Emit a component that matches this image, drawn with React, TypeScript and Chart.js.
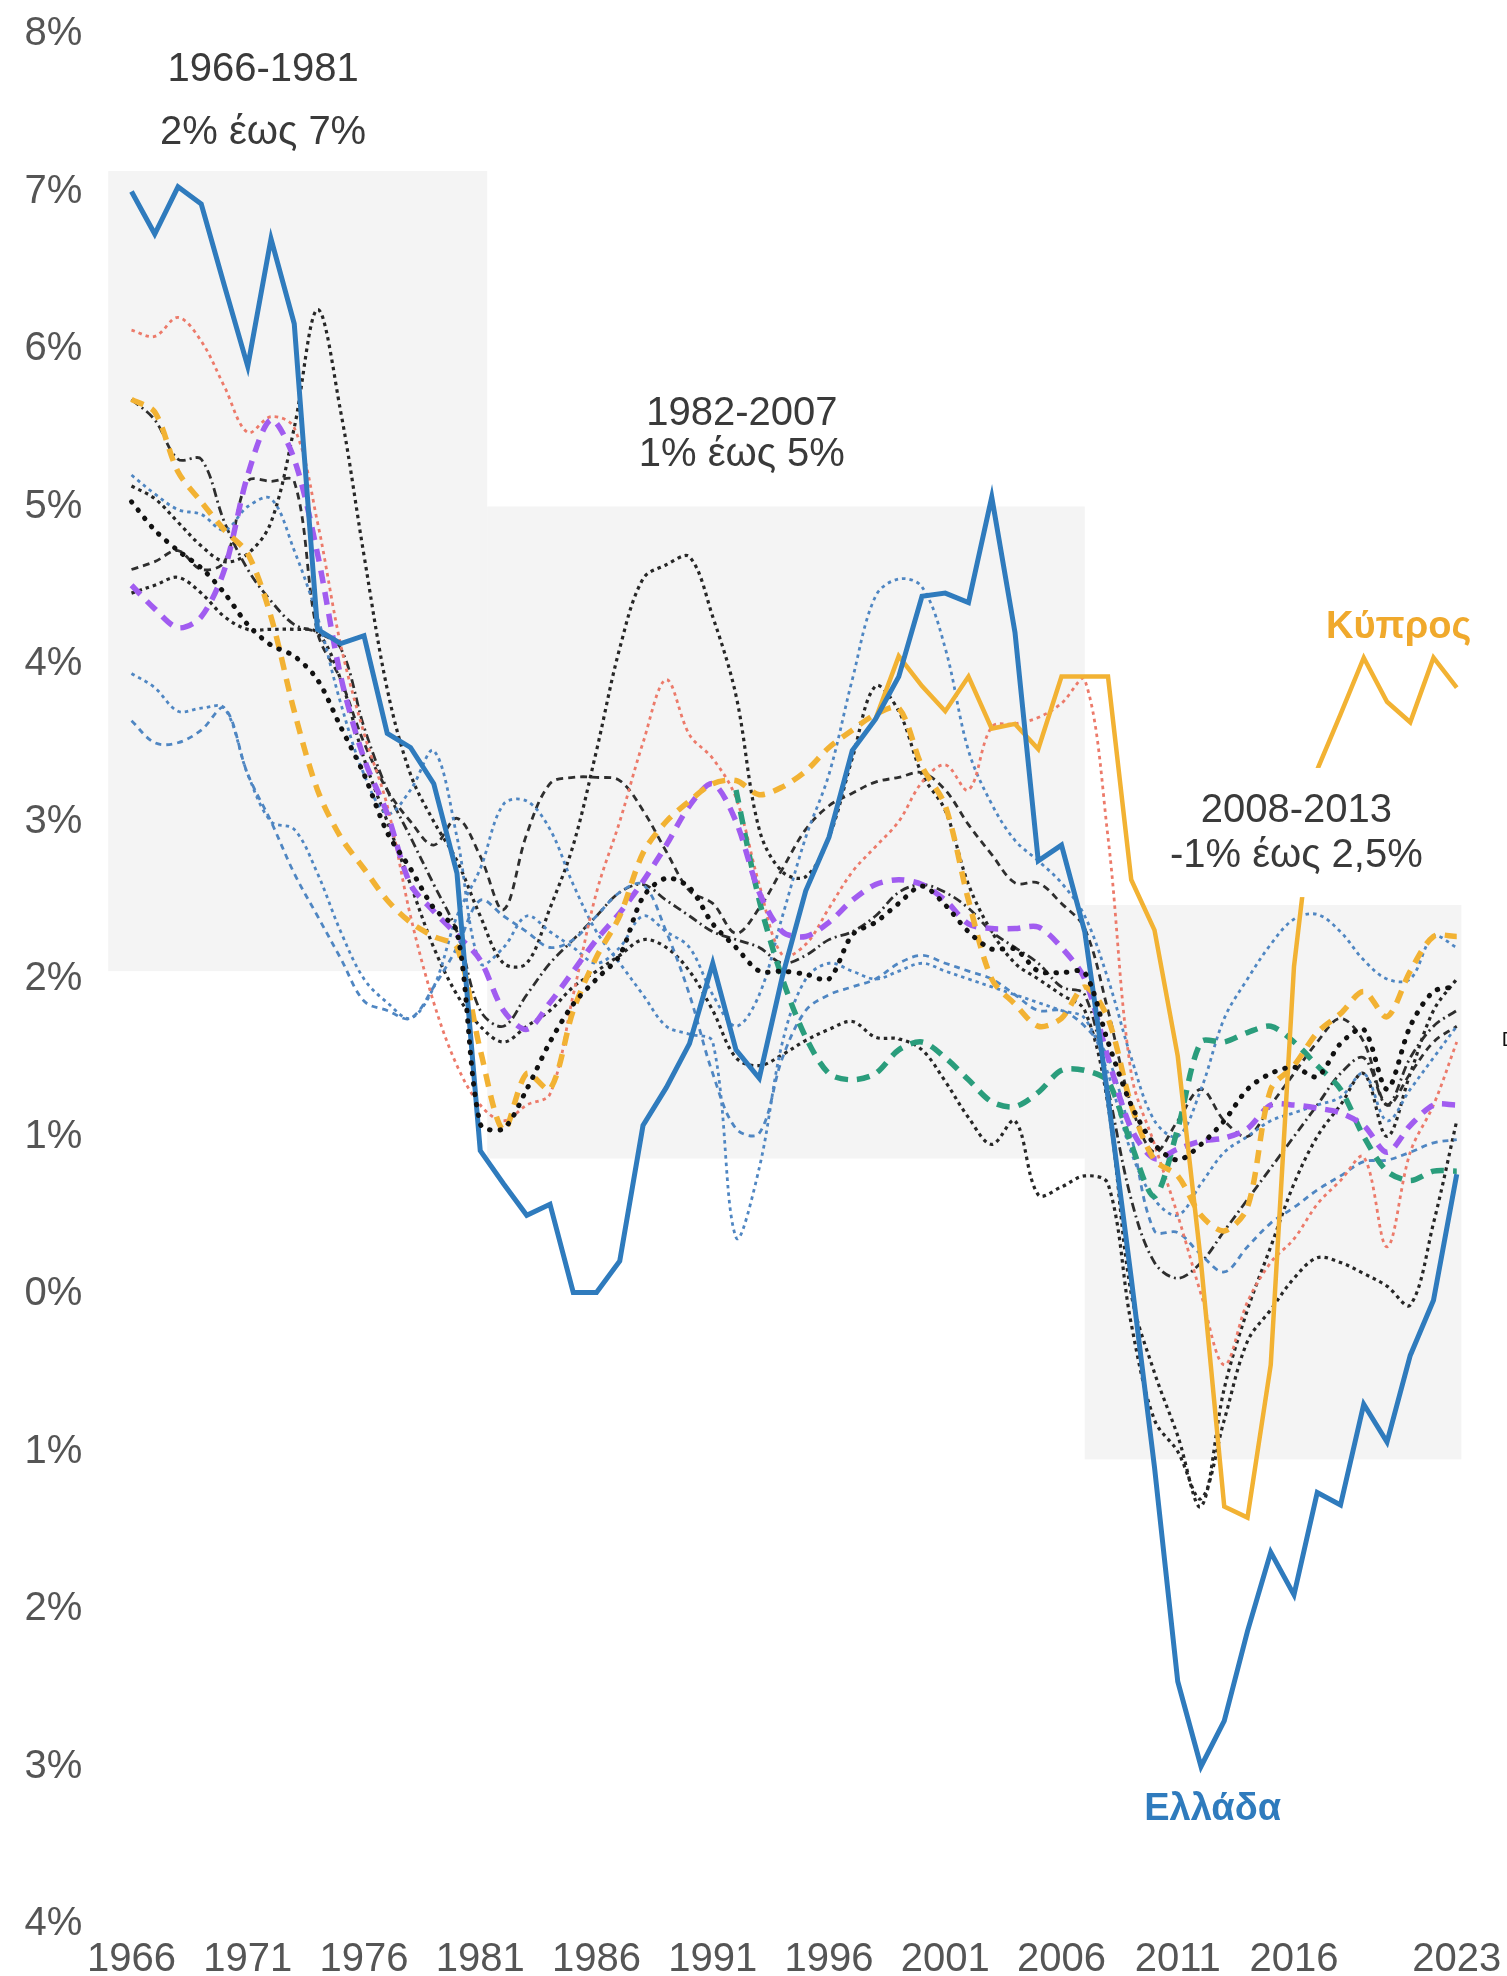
import React, { useEffect, useRef } from 'react';
import { Chart, registerables } from 'chart.js';

Chart.register(...registerables);

// ---------- data ----------
const years = [
  1966, 1967, 1968, 1969, 1970, 1971, 1972, 1973, 1974, 1975,
  1976, 1977, 1978, 1979, 1980, 1981, 1982, 1983, 1984, 1985,
  1986, 1987, 1988, 1989, 1990, 1991, 1992, 1993, 1994, 1995,
  1996, 1997, 1998, 1999, 2000, 2001, 2002, 2003, 2004, 2005,
  2006, 2007, 2008, 2009, 2010, 2011, 2012, 2013, 2014, 2015,
  2016, 2017, 2018, 2019, 2020, 2021, 2022, 2023,
];
const xTickYears = [1966, 1971, 1976, 1981, 1986, 1991, 1996, 2001, 2006, 2011, 2016, 2023];

const greece = [
  7.0, 6.73, 7.03, 6.92, 6.4, 5.89, 6.7, 6.16, 4.22, 4.13,
  4.18, 3.56, 3.47, 3.24, 2.67, 0.91, 0.7, 0.5, 0.57, 0.01,
  0.01, 0.21, 1.07, 1.31, 1.59, 2.1, 1.55, 1.37, 2.02, 2.56,
  2.9, 3.45, 3.65, 3.92, 4.43, 4.45, 4.39, 5.06, 4.2, 2.75,
  2.85, 2.3, 1.25, 0.1, -1.1, -2.46, -3.0, -2.71, -2.14, -1.64,
  -1.91, -1.26, -1.34, -0.7, -0.94, -0.39, -0.04, 0.76,
];
const cyprus = [
  null, null, null, null, null, null, null, null, null, null,
  null, null, null, null, null, null, null, null, null, null,
  null, null, null, null, null, null, null, null, null, null,
  null, null, 3.65, 4.05, 3.86, 3.7, 3.92, 3.59, 3.62, 3.46,
  3.92, 3.92, 3.92, 2.63, 2.31, 1.51, 0.2, -1.35, -1.42, -0.45,
  2.08, 3.33, 3.68, 4.04, 3.76, 3.63, 4.04, 3.85,
];
const yellowDashed = [
  5.68, 5.6, 5.22, 5.03, 4.85, 4.7, 4.3, 3.7, 3.2, 2.9,
  2.7, 2.5, 2.36, 2.27, 2.2, 1.55, 1.04, 1.4, 1.3, 1.8,
  2.14, 2.4, 2.8, 3.0, 3.13, 3.24, 3.26, 3.17, 3.22, 3.32,
  3.47, 3.58, 3.68, 3.72, 3.35, 3.1, 2.5, 2.0, 1.84, 1.7,
  1.75, 1.95, 1.75, 1.2, 0.85, 0.75, 0.5, 0.4, 0.55, 1.3,
  1.45, 1.66, 1.78, 1.92, 1.76, 2.05, 2.27, 2.27,
];
const purpleDashed = [
  4.5, 4.35, 4.23, 4.3, 4.6, 5.2, 5.55, 5.3, 4.7, 3.92,
  3.4, 3.05, 2.6, 2.43, 2.28, 2.12, 1.8, 1.68, 1.85, 2.05,
  2.25, 2.42, 2.62, 2.85, 3.1, 3.24, 3.0, 2.55, 2.3, 2.27,
  2.36, 2.5, 2.6, 2.63, 2.6, 2.5, 2.35, 2.32, 2.32, 2.33,
  2.2, 2.0, 1.5, 1.05, 0.86, 0.92, 0.97, 0.99, 1.05, 1.2,
  1.2, 1.18, 1.15, 1.07, 0.9, 1.07, 1.2, 1.2,
];
const greenDashed = [
  null, null, null, null, null, null, null, null, null, null,
  null, null, null, null, null, null, null, null, null, null,
  null, null, null, null, null, null, 3.2, 2.5, 2.0, 1.63,
  1.4, 1.36, 1.4, 1.55, 1.6, 1.5, 1.36, 1.22, 1.19, 1.28,
  1.42, 1.42, 1.35, 0.95, 0.62, 1.05, 1.6, 1.6, 1.66, 1.7,
  1.6, 1.45, 1.3, 1.0, 0.78, 0.72, 0.78, 0.78,
];
const redDotted = [
  6.12, 6.08, 6.2, 6.05, 5.76, 5.47, 5.57, 5.5, 4.9, 4.12,
  3.56, 3.1, 2.4, 1.85, 1.45, 1.2, 1.1, 1.2, 1.27, 1.9,
  2.55, 3.0, 3.5, 3.9, 3.55, 3.4, 3.15, 2.6, 2.15, 2.22,
  2.45, 2.68, 2.84, 3.0, 3.25, 3.36, 3.2, 3.6, 3.62, 3.66,
  3.75, 3.9, 2.9, 1.4, 0.95, 0.5, 0.0, -0.45, -0.05, 0.2,
  0.35, 0.57, 0.72, 0.87, 0.3, 0.9, 1.2, 1.6,
];
const blueDottedA = [
  5.2, 5.08, 4.98, 4.95, 4.85, 5.0, 5.05, 4.72, 4.3, 3.75,
  3.3, 3.05, 3.2, 3.45, 2.9, 2.1, 2.2, 2.4, 2.3, 2.2,
  2.1, 2.2, 2.4, 2.3, 2.2, 1.9, 1.7, 1.9, 2.4, 2.9,
  3.3, 3.9, 4.43, 4.54, 4.49, 4.1, 3.45, 3.11, 2.88, 2.75,
  2.61, 2.4, 2.0, 1.5, 1.1, 1.0, 1.3, 1.75, 2.0, 2.22,
  2.38, 2.41, 2.3, 2.12, 2.0, 2.0, 2.27, 2.2,
];
const blueDottedB = [
  3.94, 3.85, 3.7, 3.72, 3.72, 3.3, 3.0, 2.95, 2.67, 2.3,
  2.0, 1.85, 1.75, 1.95, 2.4, 2.7, 3.11, 3.13, 2.95, 2.6,
  2.3, 2.1, 1.9, 1.7, 1.65, 1.6, 0.36, 0.8, 1.6, 2.0,
  2.1, 2.05, 2.0, 2.05, 2.1, 2.05, 2.0, 1.95, 1.9, 1.85,
  1.8, 1.75, 1.4, 0.9, 0.6, 0.5, 0.7, 0.9, 1.0, 1.1,
  1.15, 1.2, 1.25, 1.4, 1.1, 1.3, 1.5, 1.7,
];
const blueDottedC = [
  3.64, 3.5, 3.5, 3.58, 3.72, 3.3, 3.0, 2.67, 2.4, 2.13,
  1.86, 1.8, 1.75, 1.95, 2.2, 2.5, 2.4, 2.3, 2.2, 2.25,
  2.4, 2.55, 2.6, 2.3, 1.9, 1.4, 1.05, 1.02, 1.5, 1.8,
  1.9, 1.95, 2.0, 2.1, 2.15, 2.1, 2.05, 2.0, 1.9, 1.8,
  1.8, 1.7, 1.5, 1.0, 0.4, 0.39, 0.25, 0.14, 0.3, 0.45,
  0.55, 0.66, 0.75, 0.84, 0.85, 0.9, 0.96, 0.98,
];
const blackDashDot = [
  5.68, 5.55, 5.3, 5.3, 4.9, 4.6, 4.4, 4.25, 4.2, 4.1,
  3.6, 3.2, 2.9, 2.6, 2.3, 1.8, 1.7, 1.9, 2.1, 2.25,
  2.4, 2.55, 2.6, 2.5, 2.4, 2.3, 2.25, 2.2, 2.1, 2.15,
  2.25, 2.3, 2.4, 2.55, 2.6, 2.55, 2.45, 2.3, 2.2, 2.1,
  1.95, 1.9, 1.3, 0.6, 0.2, 0.1, 0.2, 0.4, 0.6, 0.8,
  1.0, 1.2, 1.4, 1.5, 1.2, 1.5, 1.7, 1.8,
];
const blackDashed = [
  4.6, 4.65, 4.72, 4.6, 4.65, 5.16, 5.16, 5.16, 4.2, 3.9,
  3.5, 3.2, 3.0, 2.85, 3.02, 2.78, 2.44, 2.92, 3.24, 3.28,
  3.28, 3.26, 3.07, 2.81, 2.56, 2.48, 2.29, 2.45, 2.7, 2.95,
  3.1, 3.18, 3.25, 3.28, 3.31, 3.2, 2.98, 2.79, 2.61, 2.61,
  2.48, 2.32, 1.8, 1.2, 0.9, 1.1, 1.3, 1.1, 1.0, 1.2,
  1.4, 1.6, 1.75, 1.6, 1.2, 1.4, 1.6, 1.7,
];
const blackDottedA = [
  5.13, 5.05, 4.9, 4.75, 4.65, 4.7, 4.9, 5.5, 6.25, 5.6,
  4.69, 3.84, 3.3, 3.0, 2.75, 2.4, 2.1, 2.1, 2.45, 2.85,
  3.45, 4.1, 4.54, 4.63, 4.68, 4.3, 3.8, 2.95, 2.68, 2.65,
  2.9, 3.4, 3.86, 3.7, 3.3, 3.07, 2.6, 2.3, 2.1, 2.0,
  1.9, 1.8, 1.2, 0.0, -0.5, -0.9, -1.35, -0.6, -0.1, 0.3,
  0.7, 1.0, 1.2, 1.4, 1.0, 1.4, 1.8, 2.0,
];
const blackBoldDots = [
  5.03, 4.85, 4.72, 4.61, 4.45, 4.25, 4.12, 4.05, 3.9, 3.6,
  3.3, 2.93, 2.7, 2.45, 2.3, 1.08, 1.05, 1.3, 1.6, 1.84,
  2.0, 2.15, 2.52, 2.64, 2.58, 2.35, 2.2, 2.05, 2.05, 2.03,
  2.0, 2.28, 2.36, 2.48, 2.59, 2.47, 2.3, 2.19, 2.19, 2.05,
  2.04, 2.04, 1.6, 1.2, 0.95, 0.85, 0.95, 1.1, 1.3, 1.4,
  1.44, 1.38, 1.59, 1.68, 1.3, 1.7, 1.92, 1.95,
];
const blackDottedB = [
  4.45, 4.5, 4.55, 4.45, 4.3, 4.22, 4.22, 4.22, 4.2, 3.9,
  3.4, 3.0, 2.6, 2.2, 1.9, 1.7, 1.6, 1.7, 1.8, 1.95,
  2.05, 2.15, 2.25, 2.2, 2.05, 1.8, 1.5, 1.45, 1.52, 1.61,
  1.68, 1.73, 1.63, 1.62, 1.55, 1.35, 1.12, 0.95, 1.1, 0.63,
  0.68, 0.75, 0.7, -0.19, -0.8, -1.0, -1.3, -0.8, -0.3, -0.1,
  0.1, 0.23, 0.2, 0.13, 0.05, -0.07, 0.45, 1.1,
];

// shaded periods (years / percent)
const periodStart = [1965, 1981.3, 2007];
const periodEnd = [1981.3, 2007, 2023.2];
const periodLow = [2.05, 0.86, -1.05];
const periodHigh = [7.13, 5.0, 2.47];
const periodTitle = ['1966-1981', '1982-2007', '2008-2013'];
const periodRange = ['2% έως 7%', '1% έως 5%', '-1% έως 2,5%'];

// ---------- styles ----------
const FONT = '"Liberation Sans", Arial, Helvetica, sans-serif';
const BLUE = '#2f7bbd';
const GOLD = '#f2b233';

const noteLayout = [
  { x: 1971.66, y1: 7.77, y2: 7.37 },
  { x: 1992.25, y1: 5.59, y2: 5.33 },
  { x: 2016.1, y1: 3.07, y2: 2.78 },
];

const shadePlugin = {
  id: 'shadePlugin',
  beforeDatasetsDraw(chart: any) {
    const { ctx, scales } = chart;
    const x = scales.x;
    const y = scales.y;
    ctx.save();
    ctx.fillStyle = '#f4f4f4';
    for (let i = 0; i < periodStart.length; i++) {
      const x0 = x.getPixelForValue(periodStart[i]);
      const x1 = x.getPixelForValue(periodEnd[i]);
      const y0 = y.getPixelForValue(periodHigh[i]);
      const y1 = y.getPixelForValue(periodLow[i]);
      ctx.fillRect(x0, y0, x1 - x0, y1 - y0);
    }
    ctx.restore();
  },
};

const notesPlugin = {
  id: 'notesPlugin',
  afterDatasetsDraw(chart: any) {
    const { ctx, scales } = chart;
    const x = scales.x;
    const y = scales.y;
    ctx.save();
    // white backing behind the third note (covers the line as in the original)
    const mx0 = x.getPixelForValue(2010.3);
    const mx1 = x.getPixelForValue(2022);
    const my0 = y.getPixelForValue(3.34);
    const my1 = y.getPixelForValue(2.52);
    ctx.fillStyle = '#ffffff';
    ctx.fillRect(mx0, my0, mx1 - mx0, my1 - my0);

    ctx.textAlign = 'center';
    ctx.textBaseline = 'middle';
    ctx.fillStyle = '#3a3a3a';
    ctx.font = `40px ${FONT}`;
    noteLayout.forEach((p, i) => {
      const px = x.getPixelForValue(p.x);
      ctx.fillText(periodTitle[i], px, y.getPixelForValue(p.y1));
      ctx.fillText(periodRange[i], px, y.getPixelForValue(p.y2));
    });

    ctx.font = `bold 38px ${FONT}`;
    ctx.fillStyle = '#f0a92c';
    ctx.fillText('Κύπρος', x.getPixelForValue(2020.5), y.getPixelForValue(4.23));
    ctx.fillStyle = BLUE;
    ctx.fillText('Ελλάδα', x.getPixelForValue(2012.5), y.getPixelForValue(-3.27));

    ctx.font = `20px ${FONT}`;
    ctx.fillStyle = '#111';
    ctx.textAlign = 'left';
    ctx.fillText('D', x.getPixelForValue(2024.94), y.getPixelForValue(1.61));
    ctx.restore();
  },
};

function series(values: (number | null)[]) {
  return years.map((yr, i) => ({ x: yr, y: values[i] }));
}

export default function App() {
  const ref = useRef<HTMLCanvasElement>(null);

  useEffect(() => {
    if (!ref.current) return;
    const thinDot = [3.5, 4];
    const thick = [13, 9];
    const chart = new Chart(ref.current, {
      type: 'line',
      data: {
        datasets: [
          { label: 'bold dots', data: series(blackBoldDots), borderColor: '#111', borderWidth: 5, borderDash: [0.5, 10], borderCapStyle: 'round', tension: 0.3 },
          { label: 'Ελλάδα', data: series(greece), borderColor: BLUE, borderWidth: 5, tension: 0 },
          { label: 'Κύπρος', data: series(cyprus), borderColor: GOLD, borderWidth: 4.5, tension: 0 },
          { label: 'yellow', data: series(yellowDashed), borderColor: GOLD, borderWidth: 5.5, borderDash: thick, tension: 0.3 },
          { label: 'purple', data: series(purpleDashed), borderColor: '#a15cf0', borderWidth: 5.5, borderDash: thick, tension: 0.3 },
          { label: 'green', data: series(greenDashed), borderColor: '#2a9d7c', borderWidth: 5.5, borderDash: thick, tension: 0.3 },
          { label: 'red', data: series(redDotted), borderColor: '#ec7a6a', borderWidth: 2.8, borderDash: thinDot, tension: 0.35 },
          { label: 'blueA', data: series(blueDottedA), borderColor: '#4f86c2', borderWidth: 2.8, borderDash: thinDot, tension: 0.35 },
          { label: 'blueB', data: series(blueDottedB), borderColor: '#4f86c2', borderWidth: 2.8, borderDash: thinDot, tension: 0.35 },
          { label: 'blueC', data: series(blueDottedC), borderColor: '#4f86c2', borderWidth: 2.8, borderDash: [6, 5], tension: 0.35 },
          { label: 'dashdot', data: series(blackDashDot), borderColor: '#2e2e2e', borderWidth: 2.8, borderDash: [9, 4, 2, 4], tension: 0.35 },
          { label: 'dashed', data: series(blackDashed), borderColor: '#2e2e2e', borderWidth: 2.8, borderDash: [7, 5], tension: 0.35 },
          { label: 'dottedA', data: series(blackDottedA), borderColor: '#262626', borderWidth: 3.2, borderDash: thinDot, tension: 0.35 },
          { label: 'dottedB', data: series(blackDottedB), borderColor: '#262626', borderWidth: 3.2, borderDash: thinDot, tension: 0.35 },
        ],
      },
      options: {
        responsive: false,
        animation: false,
        devicePixelRatio: 1,
        layout: { padding: { top: 34, right: 45.6, bottom: 0, left: 0 } },
        plugins: { legend: { display: false }, tooltip: { enabled: false } },
        elements: { point: { radius: 0 } },
        scales: {
          x: {
            type: 'linear',
            min: 1965,
            max: 2023.2,
            grid: { display: false, drawTicks: false },
            border: { display: false },
            afterBuildTicks: (axis: any) => {
              axis.ticks = xTickYears.map((v) => ({ value: v }));
            },
            afterFit: (axis: any) => {
              axis.height = 52;
              axis.paddingLeft = 0;
              axis.paddingRight = 0;
            },
            ticks: {
              autoSkip: false,
              maxRotation: 0,
              padding: 12,
              color: '#555',
              font: { size: 40, family: FONT },
              callback: (v: any) => String(v),
            },
          },
          y: {
            min: -4,
            max: 8,
            grid: { display: false, drawTicks: false },
            border: { display: false },
            afterFit: (axis: any) => {
              axis.width = 108.25;
              axis.paddingTop = 0;
              axis.paddingBottom = 0;
            },
            ticks: {
              stepSize: 1,
              padding: 26,
              color: '#555',
              font: { size: 40, family: FONT },
              callback: (v: any) => Math.abs(Number(v)) + '%',
            },
          },
        },
      } as any,
      plugins: [shadePlugin, notesPlugin],
    });
    return () => chart.destroy();
  }, []);

  return (
    <div style={{ position: 'absolute', left: 0, top: 0, width: 1507, height: 1976, background: '#ffffff' }}>
      <canvas ref={ref} width={1507} height={1976} style={{ display: 'block', width: 1507, height: 1976 }} />
    </div>
  );
}
